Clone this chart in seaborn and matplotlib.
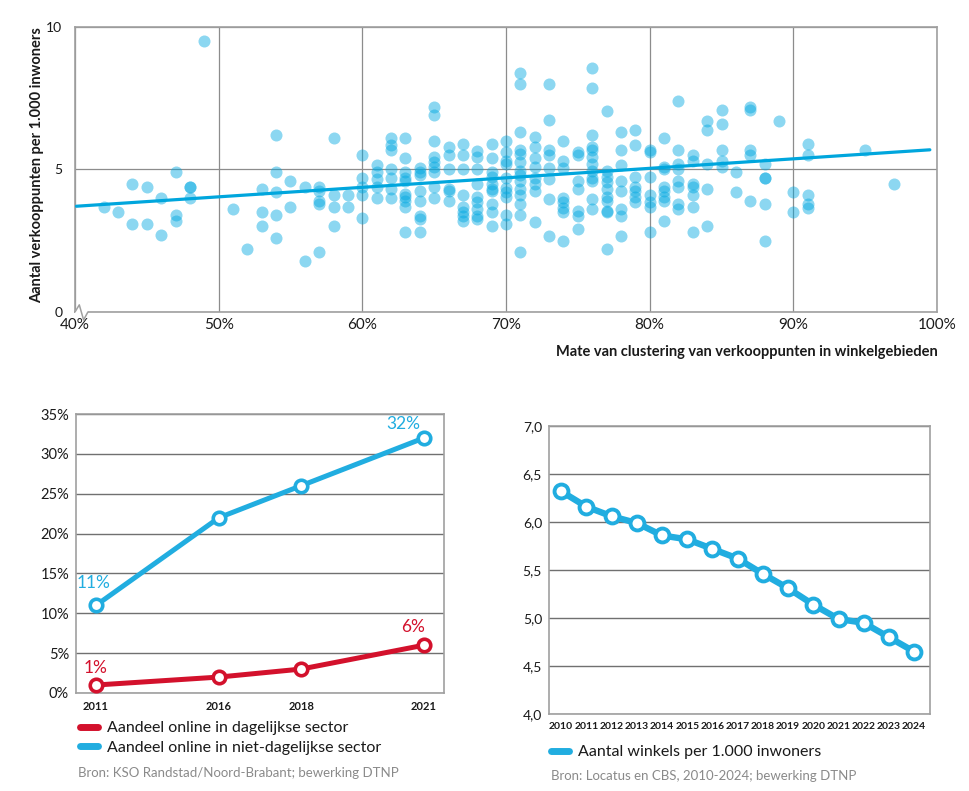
import matplotlib
matplotlib.use('Agg')
import matplotlib.pyplot as plt
import seaborn as sns
import numpy as np
from matplotlib.lines import Line2D

# --- data: clustering scatter (x = % clustering, y = outlets per 1.000 inhabitants) ---
scatter_cols = [42, 43, 44, 45, 46, 47, 48, 49, 51, 52, 53, 54, 55, 56, 57, 58, 59,
                60, 61, 62, 63, 64, 65, 66, 67, 68, 69, 70, 71, 72, 73, 74, 75, 76,
                77, 78, 79, 80, 81, 82, 83, 84, 85, 86, 87, 88, 89, 90, 91, 95, 97]
scatter_vals = [
    [3.7], [3.5], [4.5, 3.1], [4.4, 3.1], [4.0, 2.7], [4.9, 3.4, 3.2], [4.4, 4.4, 4.0],
    [9.5], [3.6], [2.2], [4.3, 3.5, 3.0], [6.2, 4.9, 4.2, 3.4, 2.6], [4.6, 3.7], [4.4, 1.8],
    [4.4, 4.25, 3.9, 3.8, 2.1], [6.1, 4.1, 3.7, 3.0], [4.1, 3.7],
    [5.5, 4.7, 4.4, 4.1, 3.3],
    [5.15, 4.9, 4.65, 4.4, 4.0],
    [6.1, 5.85, 5.7, 5.0, 4.7, 4.3, 4.0],
    [6.1, 5.4, 4.9, 4.7, 4.6, 4.15, 4.05, 3.9, 3.7, 2.8],
    [5.05, 4.9, 4.8, 4.25, 3.9, 3.35, 3.25, 2.8],
    [7.2, 6.9, 6.0, 5.45, 5.25, 5.1, 4.9, 4.4, 4.0],
    [5.8, 5.5, 5.0, 4.3, 4.25, 3.9],
    [5.9, 5.5, 5.0, 4.1, 3.7, 3.5, 3.35, 3.2],
    [5.65, 5.45, 5.0, 4.5, 4.05, 3.85, 3.6, 3.35, 3.25],
    [5.9, 5.4, 4.9, 4.75, 4.5, 4.3, 4.25, 3.8, 3.5, 3.0],
    [6.0, 5.6, 5.3, 5.2, 4.7, 4.35, 4.2, 4.05, 3.4, 3.1],
    [8.4, 8.0, 6.3, 5.7, 5.55, 5.25, 4.95, 4.8, 4.6, 4.3, 4.1, 3.8, 3.4, 2.1],
    [6.15, 5.8, 5.4, 5.1, 4.7, 4.5, 4.25, 3.15],
    [8.0, 6.75, 5.7, 5.5, 5.05, 4.65, 3.95, 2.65],
    [6.0, 5.3, 5.05, 4.0, 3.85, 3.65, 3.5, 2.5],
    [5.6, 5.5, 4.6, 4.3, 3.55, 3.35, 2.9],
    [8.55, 7.85, 6.2, 5.8, 5.7, 5.45, 5.2, 4.95, 4.7, 4.6, 3.95, 3.6],
    [7.05, 4.95, 4.75, 4.55, 4.3, 4.05, 3.9, 3.55, 3.5, 2.2],
    [6.3, 5.7, 5.15, 4.6, 4.25, 3.6, 3.35, 2.65],
    [6.4, 5.85, 4.75, 4.4, 4.25, 4.05, 3.85],
    [5.7, 5.6, 4.75, 4.1, 3.85, 3.7, 2.8],
    [6.1, 5.1, 5.0, 4.4, 4.25, 4.05, 3.9, 3.2],
    [7.4, 5.7, 5.2, 5.0, 4.6, 4.4, 3.8, 3.6],
    [5.5, 5.3, 4.5, 4.4, 4.1, 3.7, 2.8],
    [6.7, 6.4, 5.2, 4.3, 3.0],
    [7.1, 6.6, 5.7, 5.3, 5.1],
    [4.9, 4.2],
    [7.2, 7.1, 5.7, 5.5, 3.9],
    [5.2, 4.7, 4.7, 3.8, 2.5],
    [6.7],
    [4.2, 3.5],
    [5.9, 5.5, 4.1, 3.8, 3.65],
    [5.7],
    [4.5],
]
trend_pct = [40.1, 99.5]
trend_vals = [3.71, 5.69]
scatter_xticks = [40, 50, 60, 70, 80, 90, 100]
scatter_yticks = [0, 5, 10]

# --- data: online share ---
online_years = [2011, 2016, 2018, 2021]
online_daily = [1, 2, 3, 6]
online_nondaily = [11, 22, 26, 32]
online_yticks = [0, 5, 10, 15, 20, 25, 30, 35]

# --- data: shops per 1.000 inhabitants ---
shop_years = [2010, 2011, 2012, 2013, 2014, 2015, 2016, 2017,
              2018, 2019, 2020, 2021, 2022, 2023, 2024]
shops_per_1000 = [6.32, 6.16, 6.06, 5.99, 5.86, 5.82, 5.72, 5.62,
                  5.46, 5.31, 5.14, 4.99, 4.95, 4.80, 4.65]
shop_yticks = [4.0, 4.5, 5.0, 5.5, 6.0, 6.5, 7.0]

BLUE = '#21ade0'
DOT = '#00a8e1'
RED = '#d3112c'
SPINE = '#a0a0a0'
GRID = '#707070'
TXT = '#1a1a1a'

sns.set_theme(style='white')
plt.rcParams['font.family'] = ['Lato', 'DejaVu Sans']

fig = plt.figure(figsize=(9.7, 7.91), dpi=100)

# ---------------- top: scatter ----------------
xs = [c for c, vals in zip(scatter_cols, scatter_vals) for _ in vals]
ys = [v for vals in scatter_vals for v in vals]

ax1 = fig.add_axes([0.0773, 0.6056, 0.8887, 0.3603])
sns.scatterplot(x=xs, y=ys, ax=ax1, s=75, color=DOT, alpha=0.45, linewidth=0, zorder=3)
sns.lineplot(x=trend_pct, y=trend_vals, ax=ax1, color='#00a6dd', lw=2.3, zorder=4)
ax1.set_xlim(40, 100)
ax1.set_ylim(0, 10)
ax1.set_xticks(scatter_xticks)
ax1.set_xticklabels([f'{t}%' for t in scatter_xticks], fontsize=11, color=TXT)
ax1.set_yticks(scatter_yticks)
ax1.set_yticklabels([str(t) for t in scatter_yticks], fontsize=10, color=TXT)
ax1.tick_params(axis='x', length=0, pad=4)
ax1.tick_params(axis='y', length=0, pad=9)
ax1.grid(True, color='#8c8c8c', lw=0.9, zorder=0)
ax1.set_axisbelow(True)
for sp in ax1.spines.values():
    sp.set_color(SPINE)
    sp.set_linewidth(1.2)
ax1.set_xlabel('')
ax1.set_ylabel('')
# axis break mark at the lower-left corner
ax1.plot([0.0, 0.015], [0, 0], transform=ax1.transAxes, color='white', lw=3,
         clip_on=False, zorder=5, solid_capstyle='butt')
ax1.plot([0.0, 0.005, 0.010, 0.015], [0.0, 0.025, -0.028, 0.0], transform=ax1.transAxes,
         color=SPINE, lw=1.1, clip_on=False, zorder=6)

fig.text(37 / 970, 1 - 165 / 791, 'Aantal verkooppunten per 1.000 inwoners', rotation=90,
         ha='center', va='center', fontsize=10.5, weight='bold', color=TXT)
fig.text(938 / 970, 1 - 352 / 791, 'Mate van clustering van verkooppunten in winkelgebieden',
         ha='right', va='center', fontsize=10.5, weight='bold', color=TXT)

# ---------------- bottom left: online share ----------------
slot = [0.0, 1.5, 2.5, 4.0]   # horizontal spacing used in the original layout
ax2 = fig.add_axes([0.0784, 0.1239, 0.3794, 0.3527])
sns.lineplot(x=slot, y=online_nondaily, ax=ax2, color=BLUE, lw=3.6, marker='o',
             markersize=9, markerfacecolor='white', mec=BLUE, mew=2.6, zorder=4)
sns.lineplot(x=slot, y=online_daily, ax=ax2, color=RED, lw=3.6, marker='o',
             markersize=9, markerfacecolor='white', mec=RED, mew=2.6, zorder=4)
ax2.set_xlim(-0.244, 4.244)
ax2.set_ylim(0, 35)
ax2.set_yticks(online_yticks)
ax2.set_yticklabels([f'{t}%' for t in online_yticks], fontsize=10.5, color=TXT)
ax2.set_xticks(slot)
ax2.set_xticklabels([str(y) for y in online_years], fontsize=8, weight='bold', color=TXT)
ax2.tick_params(axis='both', length=0)
ax2.tick_params(axis='y', pad=5)
ax2.tick_params(axis='x', pad=6)
ax2.grid(True, axis='y', color=GRID, lw=1.0)
ax2.set_axisbelow(True)
for sp in ax2.spines.values():
    sp.set_color(SPINE)
    sp.set_linewidth(1.2)

lab_kw = dict(textcoords='offset points', ha='center', va='center', fontsize=12.5)
ax2.annotate(f'{online_nondaily[0]}%', (slot[0], online_nondaily[0]), xytext=(-2, 16), color=BLUE, **lab_kw)
ax2.annotate(f'{online_nondaily[-1]}%', (slot[-1], online_nondaily[-1]), xytext=(-15, 10), color=BLUE, **lab_kw)
ax2.annotate(f'{online_daily[0]}%', (slot[0], online_daily[0]), xytext=(0, 12), color=RED, **lab_kw)
ax2.annotate(f'{online_daily[-1]}%', (slot[-1], online_daily[-1]), xytext=(-8, 13), color=RED, **lab_kw)

handles2 = [Line2D([], [], color=RED, lw=5), Line2D([], [], color=BLUE, lw=5)]
fig.legend(handles2, ['Aandeel online in dagelijkse sector', 'Aandeel online in niet-dagelijkse sector'],
           loc='upper left', bbox_to_anchor=(80 / 970, 1 - 721 / 791), frameon=False,
           fontsize=11.5, handlelength=1.1, handletextpad=0.6, labelspacing=0.35,
           borderpad=0, borderaxespad=0, labelcolor=TXT)
fig.text(78 / 970, 1 - 773 / 791, 'Bron: KSO Randstad/Noord-Brabant; bewerking DTNP',
         ha='left', va='center', fontsize=9.5, color='#8a8a8a')

# ---------------- bottom right: shops per 1.000 inhabitants ----------------
ax3 = fig.add_axes([0.566, 0.0973, 0.3928, 0.3641])
sns.lineplot(x=shop_years, y=shops_per_1000, ax=ax3, color=BLUE, lw=4.6, marker='o',
             markersize=10, markerfacecolor='white', mec=BLUE, mew=2.8, zorder=4)
ax3.set_xlim(2009.52, 2024.63)
ax3.set_ylim(4.0, 7.0)
ax3.set_yticks(shop_yticks)
ax3.set_yticklabels([f'{t:.1f}'.replace('.', ',') for t in shop_yticks], fontsize=10, color=TXT)
ax3.set_xticks(shop_years)
ax3.set_xticklabels([str(y) for y in shop_years], fontsize=7.5, weight='bold', color=TXT)
ax3.tick_params(axis='both', length=0)
ax3.tick_params(axis='y', pad=5)
ax3.tick_params(axis='x', pad=6)
ax3.grid(True, axis='y', color=GRID, lw=1.0)
ax3.set_axisbelow(True)
for sp in ax3.spines.values():
    sp.set_color(SPINE)
    sp.set_linewidth(1.2)

fig.legend([Line2D([], [], color=BLUE, lw=5)], ['Aantal winkels per 1.000 inwoners'],
           loc='upper left', bbox_to_anchor=(551 / 970, 1 - 745 / 791), frameon=False,
           fontsize=11.5, handlelength=1.1, handletextpad=0.6,
           borderpad=0, borderaxespad=0, labelcolor=TXT)
fig.text(551 / 970, 1 - 776 / 791, 'Bron: Locatus en CBS, 2010-2024; bewerking DTNP',
         ha='left', va='center', fontsize=9.5, color='#8a8a8a')

fig.savefig('out.png', dpi=100)
